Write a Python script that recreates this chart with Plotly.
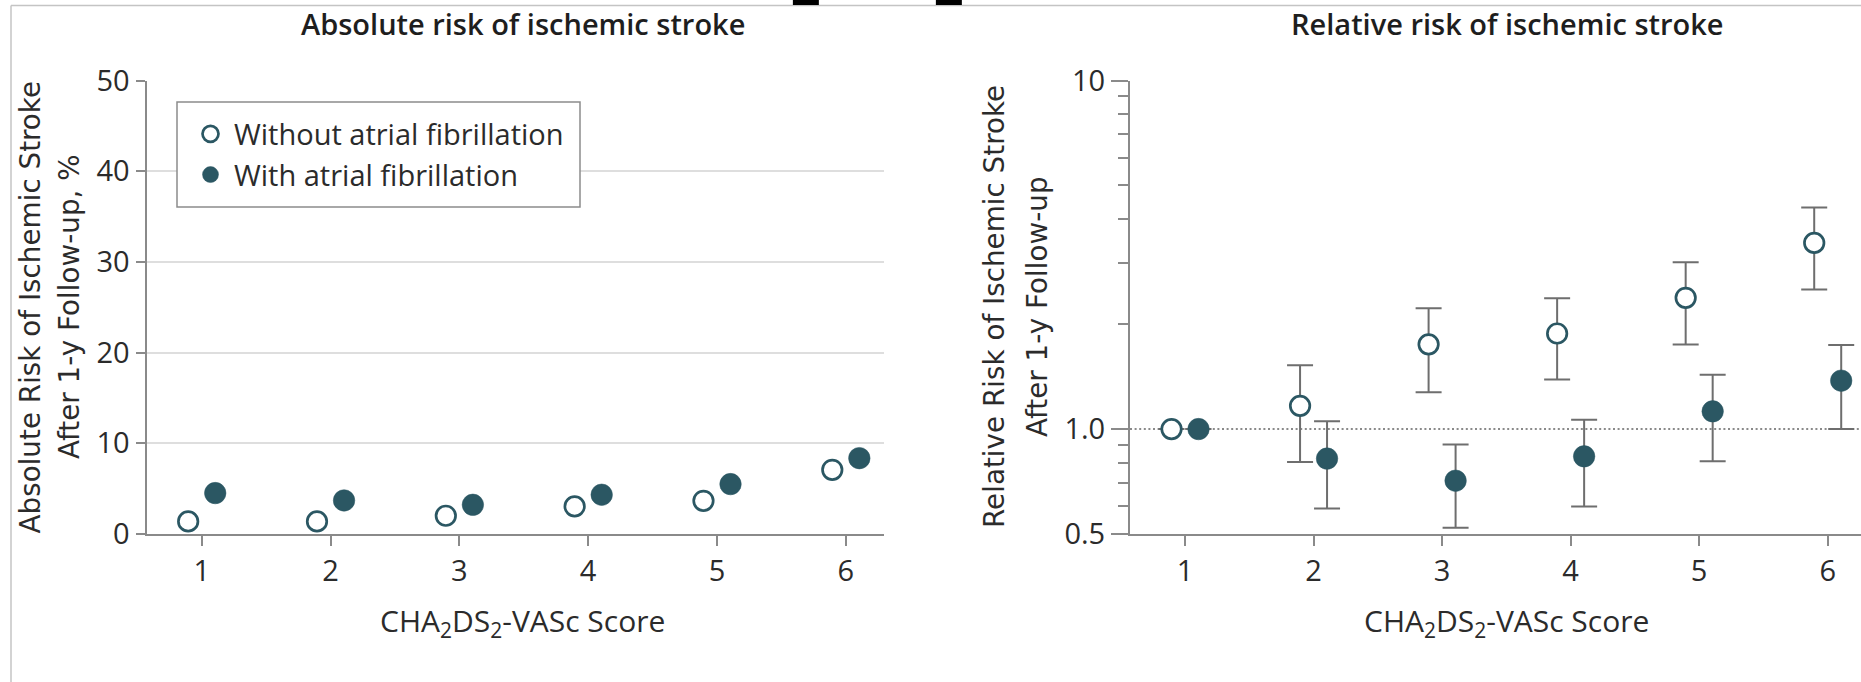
import plotly.graph_objects as go

# ---------------- data ----------------
scores = [1, 2, 3, 4, 5, 6]
tick_labels_x = ["1", "2", "3", "4", "5", "6"]

abs_without_af = [1.39, 1.39, 2.01, 3.04, 3.66, 7.08]
abs_with_af = [4.51, 3.70, 3.22, 4.33, 5.50, 8.36]

rr_without_af = [1.0, 1.166, 1.75, 1.88, 2.38, 3.42]
rr_without_af_hi = [None, 1.525, 2.22, 2.372, 3.01, 4.32]
rr_without_af_lo = [None, 0.805, 1.276, 1.388, 1.747, 2.515]

rr_with_af = [1.0, 0.823, 0.711, 0.835, 1.124, 1.377]
rr_with_af_hi = [None, 1.053, 0.903, 1.063, 1.432, 1.743]
rr_with_af_lo = [None, 0.592, 0.521, 0.600, 0.809, 1.0]

abs_ticks = [0, 10, 20, 30, 40, 50]
rr_ticks = [0.5, 1.0, 10]
rr_tick_text = ["0.5", "1.0", "10"]
rr_minor_ticks = [0.6, 0.7, 0.8, 0.9, 2, 3, 4, 5, 6, 7, 8, 9]
reference_rr = 1.0

name_without = "Without atrial fibrillation"
name_with = "With atrial fibrillation"
title_left = "Absolute risk of ischemic stroke"
title_right = "Relative risk of ischemic stroke"
ytitle_left = ["Absolute Risk of Ischemic Stroke", "After 1-y Follow-up, %"]
ytitle_right = ["Relative Risk of Ischemic Stroke", "After 1-y Follow-up"]
xtitle = "CHA<sub>2</sub>DS<sub>2</sub>-VASc Score"

# ---------------- style ----------------
W, H = 1861, 682
TEAL = "#2b5763"
AXC = "#8a8a8a"
GRID = "#dedede"
TXT = "#2b2b2b"
ERR = "#6e6e6e"
FONT = "Open Sans"
OFF = 0.105


def px_x(p):
    return p / W


def px_y(p):
    return 1 - p / H


def err_up(v, hi):
    return [None if h is None else h - y for y, h in zip(v, hi)]


def err_dn(v, lo):
    return [None if l is None else y - l for y, l in zip(v, lo)]


x_without = [s - OFF for s in scores]
x_with = [s + OFF for s in scores]

fig = go.Figure()

open_marker = dict(symbol="circle", size=19.5, color="white", line=dict(color=TEAL, width=2.7))
fill_marker = dict(symbol="circle", size=21.5, color=TEAL, line=dict(color=TEAL, width=0.5))

fig.add_trace(go.Scatter(x=x_without, y=abs_without_af, mode="markers", name=name_without,
                         marker=open_marker, xaxis="x", yaxis="y", showlegend=True))
fig.add_trace(go.Scatter(x=x_with, y=abs_with_af, mode="markers", name=name_with,
                         marker=fill_marker, xaxis="x", yaxis="y", showlegend=True))

eb = dict(type="data", symmetric=False, color=ERR, thickness=2, width=13)
fig.add_trace(go.Scatter(x=x_without, y=rr_without_af, mode="markers", name=name_without,
                         marker=open_marker, xaxis="x2", yaxis="y2", showlegend=False,
                         error_y=dict(eb, array=err_up(rr_without_af, rr_without_af_hi),
                                      arrayminus=err_dn(rr_without_af, rr_without_af_lo))))
fig.add_trace(go.Scatter(x=x_with, y=rr_with_af, mode="markers", name=name_with,
                         marker=fill_marker, xaxis="x2", yaxis="y2", showlegend=False,
                         error_y=dict(eb, array=err_up(rr_with_af, rr_with_af_hi),
                                      arrayminus=err_dn(rr_with_af, rr_with_af_lo))))

ydom = [px_y(534), px_y(80.5)]
tickfont = dict(family=FONT, size=29, color=TXT)
common_axis = dict(showline=True, linecolor=AXC, linewidth=2, ticks="outside",
                   tickcolor=AXC, tickwidth=2, zeroline=False, tickfont=tickfont,
                   automargin=False)

fig.update_layout(
    width=W, height=H,
    margin=dict(l=0, r=0, t=0, b=0, pad=0, autoexpand=False),
    paper_bgcolor="white", plot_bgcolor="white",
    xaxis=dict(common_axis, domain=[px_x(146.5), px_x(884)], range=[0.5715, 6.2965],
               tickvals=scores, ticktext=tick_labels_x, ticklen=10, showgrid=False, anchor="y"),
    yaxis=dict(common_axis, domain=ydom, range=[0, 50], tickvals=abs_ticks, ticklen=9,
               showgrid=True, gridcolor=GRID, gridwidth=2, anchor="x"),
    xaxis2=dict(common_axis, domain=[px_x(1130), 1.0], range=[0.572, 6.259],
                tickvals=scores, ticktext=tick_labels_x, ticklen=10, showgrid=False, anchor="y2"),
    yaxis2=dict(common_axis, domain=ydom, type="log", range=[-0.30103, 1.0],
                tickvals=rr_ticks, ticktext=rr_tick_text, ticklen=17, showgrid=False, anchor="x2",
                minor=dict(tickvals=rr_minor_ticks, ticks="outside", ticklen=10, tickwidth=2,
                           tickcolor=AXC, showgrid=False)),
    legend=dict(x=px_x(187), y=px_y(108.5), xanchor="left", yanchor="top",
                bgcolor="rgba(0,0,0,0)", borderwidth=0, itemwidth=37,
                font=dict(family=FONT, size=29, color=TXT), itemsizing="trace",
                tracegroupgap=0),
    showlegend=True,
)

# legend frame (opaque box hiding the gridline behind the legend)
fig.add_shape(type="rect", xref="paper", yref="paper",
              x0=px_x(177), x1=px_x(580), y0=px_y(207), y1=px_y(102),
              fillcolor="white", line=dict(color="#8c8c8c", width=1.5), layer="above")

# reference line at RR = 1
fig.add_shape(type="line", xref="x2 domain", yref="y2", x0=0, x1=1,
              y0=reference_rr, y1=reference_rr,
              line=dict(color="#8a8a8a", width=2, dash="2px,2.6px"), layer="below")

# frame lines (figure border)
fig.add_shape(type="line", xref="paper", yref="paper", x0=px_x(11), x1=1, y0=px_y(5.5), y1=px_y(5.5),
              line=dict(color="#c4c4c4", width=1.5))
fig.add_shape(type="line", xref="paper", yref="paper", x0=px_x(11), x1=px_x(11), y0=0, y1=px_y(5.5),
              line=dict(color="#c4c4c4", width=1.5))

ann = []
# panel titles
for txt, cx in [(title_left, 523), (title_right, 1507)]:
    ann.append(dict(text=txt, x=px_x(cx), y=px_y(24), xref="paper", yref="paper",
                    xanchor="center", yanchor="middle", showarrow=False,
                    font=dict(family=FONT, size=29, color="#1e1e1e", weight=600)))
# x axis titles
for cx in [522, 1506]:
    ann.append(dict(text=xtitle, x=px_x(cx), y=px_y(622), xref="paper", yref="paper",
                    xanchor="center", yanchor="middle", showarrow=False,
                    font=dict(family=FONT, size=30, color=TXT)))
# y axis titles (two lines each)
for lines, xs in [(ytitle_left, [29.5, 69]), (ytitle_right, [994, 1037])]:
    for t, cx in zip(lines, xs):
        ann.append(dict(text=t, x=px_x(cx), y=px_y(307), xref="paper", yref="paper",
                        xanchor="center", yanchor="middle", showarrow=False, textangle=-90,
                        font=dict(family="DejaVu Sans", size=27.8, color=TXT)))
# cropped glyph fragments at the very top
for cx in [806, 948.5]:
    ann.append(dict(text="2", x=px_x(cx), y=1, xref="paper", yref="paper",
                    xanchor="center", yanchor="bottom", yshift=-18, showarrow=False,
                    font=dict(family="Liberation Sans", size=54, color="black", weight="bold")))
fig.update_layout(annotations=ann)

fig.write_html("out.html")
